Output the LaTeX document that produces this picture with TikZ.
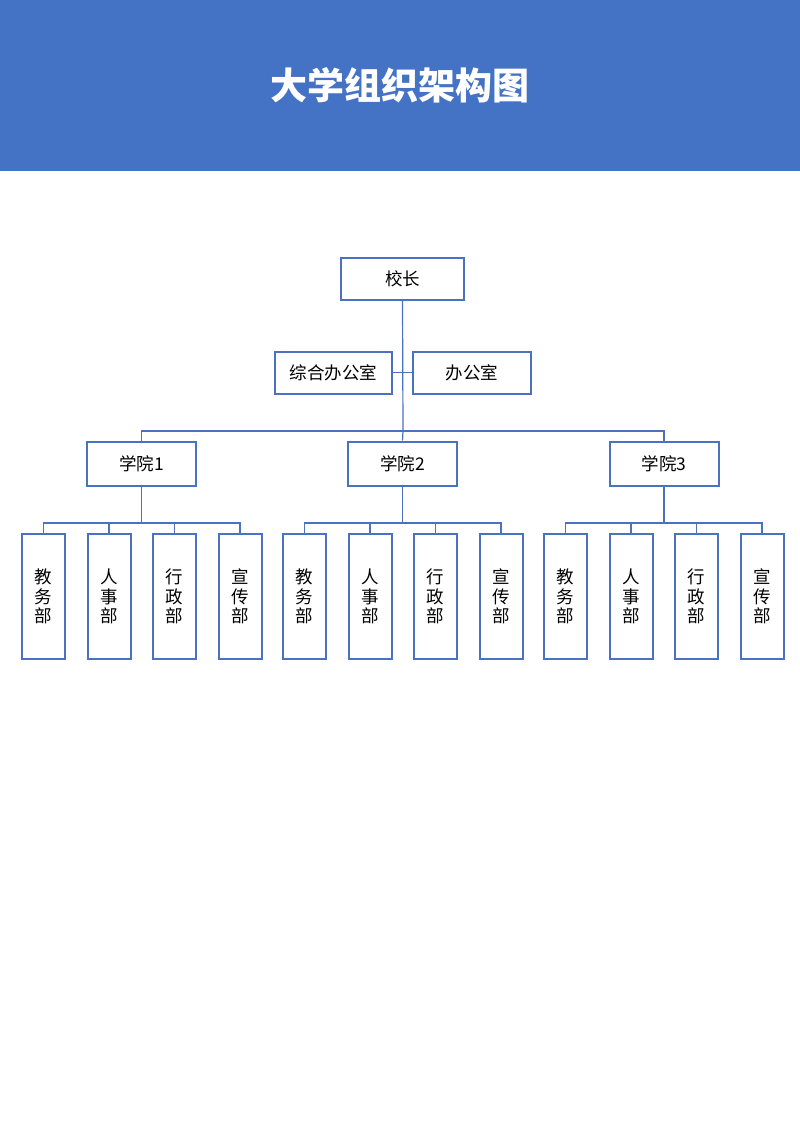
\documentclass[tikz,border=0pt]{standalone}
\usepackage{fontspec}
\setmainfont{Noto Sans CJK SC}
\definecolor{hdr}{HTML}{4472C4}
\definecolor{edge}{HTML}{4A72BE}
\begin{document}
\begin{tikzpicture}[x=1pt,y=-1pt,
  box/.style={draw=edge,line width=2pt,fill=white,inner sep=0pt,font=\fontsize{17.5}{20}\selectfont},
  hbox/.style={box,minimum height=42pt},
  vbox/.style={box,minimum width=43pt,minimum height=125pt,align=center,font=\fontsize{17.5}{19.5}\selectfont},
  conn/.style={draw=edge,line width=1.2pt}]
\useasboundingbox (0,0) rectangle (800,1132);
\fill[white] (0,0) rectangle (800,1132);
\fill[hdr] (0,0) rectangle (800,171);
\node[text=white,font=\fontsize{37}{42}\selectfont\bfseries] (title) at (400,85) {大学组织架构图};
% top
\node[hbox,minimum width=123pt] (pres) at (402.5,279) {校长};
\node[hbox,minimum width=117pt] (zh) at (333.5,372.5) {综合办公室};
\node[hbox,minimum width=118pt] (bg) at (472,372.5) {办公室};
\coordinate (bar) at (403,431);
\draw[conn] (pres.south) -- (bar);
\draw[conn] (zh.east) -- (bg.west);
% colleges
\node[hbox,minimum width=109pt,minimum height=44pt] (c1) at (141.5,463.5) {学院1};
\node[hbox,minimum width=109pt,minimum height=44pt] (c2) at (402.5,463.5) {学院2};
\node[hbox,minimum width=109pt,minimum height=44pt] (c3) at (664,463.5) {学院3};
\draw[conn] (c1.north) |- (bar) -| (c3.north);
\draw[conn] (bar) -- (c2.north);
% departments
\foreach \g/\x in {1/43.5,2/304.5,3/565.5}{
  \node[vbox] (d\g a) at (\x,596.5) {教\\务\\部};
  \node[vbox] (d\g b) at (\x+65.5,596.5) {人\\事\\部};
  \node[vbox] (d\g c) at (\x+131,596.5) {行\\政\\部};
  \node[vbox] (d\g d) at (\x+196.5,596.5) {宣\\传\\部};
  \coordinate (s\g) at (\x+98.25,523);
}
\foreach \g in {1,2,3}{
  \draw[conn] (c\g.south) -- (c\g.south |- s\g);
  \draw[conn] (d\g a.north) |- (s\g) -| (d\g d.north);
  \draw[conn] (d\g b.north) -- (d\g b.north |- s\g);
  \draw[conn] (d\g c.north) -- (d\g c.north |- s\g);
}
\end{tikzpicture}
\end{document}
